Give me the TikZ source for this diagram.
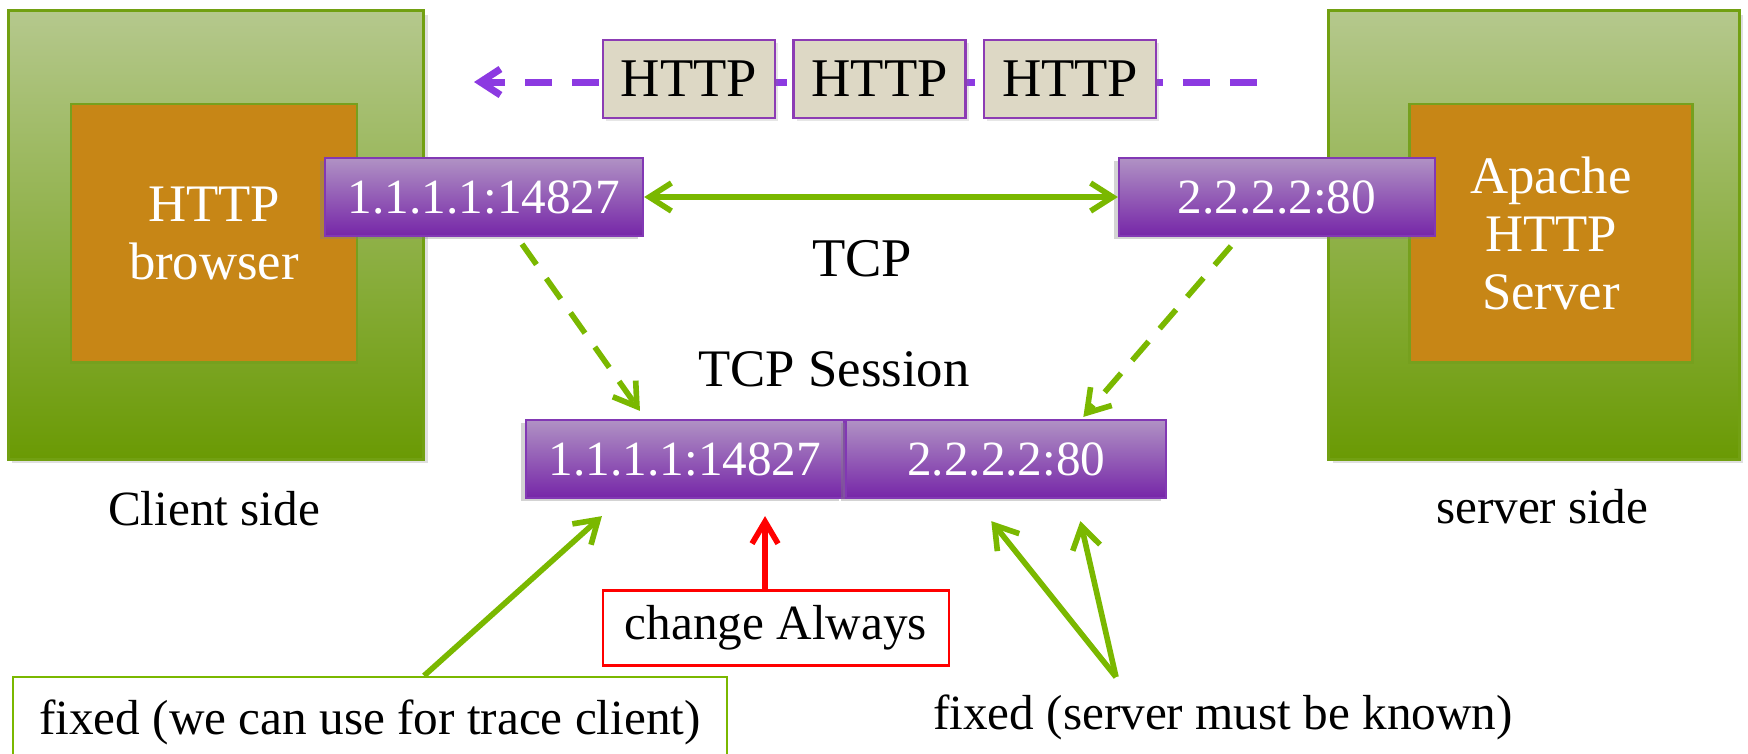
\documentclass[tikz,border=0pt]{standalone}
\usepackage{fontspec}
\setmainfont{Liberation Serif}
\usetikzlibrary{positioning,shadows,arrows.meta}

\definecolor{sideTop}{RGB}{181,200,141}
\definecolor{sideBottom}{RGB}{106,154,4}
\definecolor{sideLine}{RGB}{114,160,18}
\definecolor{appFill}{RGB}{199,134,22}
\definecolor{appLine}{RGB}{118,160,30}
\definecolor{ipTop}{RGB}{176,146,196}
\definecolor{ipBottom}{RGB}{118,38,168}
\definecolor{ipLine}{RGB}{130,56,180}
\definecolor{pktFill}{RGB}{221,216,197}
\definecolor{pktLine}{RGB}{140,60,180}
\definecolor{pktDash}{RGB}{140,58,225}
\definecolor{arrowGreen}{RGB}{122,184,0}

\tikzstyle{sideNode} = [rectangle, minimum width=4.15cm, minimum height=4.48cm, draw=sideLine, line width=0.8pt, top color=sideTop, bottom color=sideBottom, drop shadow={opacity=0.25, shadow xshift=0.04cm, shadow yshift=-0.04cm}]
\tikzstyle{appNode} = [rectangle, minimum width=2.86cm, minimum height=2.58cm, draw=appLine, line width=0.8pt, fill=appFill, text=white, align=center, font=\fontsize{15}{16.5}\selectfont]
\tikzstyle{ipNode} = [rectangle, minimum width=3.18cm, minimum height=0.78cm, draw=ipLine, line width=0.6pt, top color=ipTop, bottom color=ipBottom, text=white, font=\fontsize{14}{16}\selectfont, drop shadow={opacity=0.35, shadow xshift=-0.05cm, shadow yshift=-0.03cm}]
\tikzstyle{pktNode} = [rectangle, minimum width=1.72cm, minimum height=0.78cm, draw=pktLine, line width=0.7pt, fill=pktFill, font=\fontsize{15.5}{18}\selectfont, drop shadow={opacity=0.2, shadow xshift=0.03cm, shadow yshift=-0.03cm}]
\tikzstyle{noteNode} = [rectangle, line width=0.7pt, font=\fontsize{14}{16}\selectfont]
\tikzstyle{arrow} = [line width=1.6pt, draw=arrowGreen, ->, >={Straight Barb[length=0.22cm, width=0.28cm]}]
\tikzstyle{dashArrow} = [arrow, dash pattern=on 0.25cm off 0.17cm]
\tikzstyle{pktArrow} = [line width=2pt, draw=pktDash, ->, >={Straight Barb[length=0.2cm, width=0.26cm]}, dash pattern=on 0.27cm off 0.2cm]
\tikzstyle{redArrow} = [line width=1.6pt, draw=red, ->, >={Straight Barb[length=0.22cm, width=0.26cm]}]

\begin{document}
\begin{tikzpicture}[x=0.01cm, y=-0.01cm]
    \useasboundingbox (0,0) rectangle (1748,753);

    \node (client)[sideNode] at (216,235) {};
    \node (browser)[appNode] at (214,233) {HTTP\\browser};
    \node (cip)[ipNode] at (484,197) {1.1.1.1:14827};
    \node (server)[sideNode, minimum width=4.1cm] at (1534,235) {};
    \node (apache)[appNode, minimum width=2.83cm] at (1551,233) {Apache\\HTTP\\Server};
    \node (sip)[ipNode, minimum width=3.16cm] at (1277,197) {2.2.2.2:80};
    \node (clientlbl)[noteNode] at (214,509) {Client side};
    \node (serverlbl)[noteNode] at (1542,507) {server side};

    \coordinate (pktStart) at (1257,82);
    \coordinate (pktEnd) at (474,82);
    \draw [pktArrow] (pktStart) -- (pktEnd);
    \node (pkt1)[pktNode] at (689,79) {HTTP};
    \node (pkt2)[pktNode, right=0.16cm of pkt1] {HTTP};
    \node (pkt3)[pktNode, right=0.16cm of pkt2] {HTTP};

    \node (tcp)[noteNode, font=\fontsize{15.5}{18}\selectfont] at (862,259) {TCP};
    \node (session)[noteNode, font=\fontsize{15}{18}\selectfont] at (834,369) {TCP Session};
    \node (sesl)[ipNode] at (685,459) {1.1.1.1:14827};
    \node (sesr)[ipNode, minimum width=3.2cm, right=0pt of sesl] {2.2.2.2:80};

    \node (chg)[noteNode, draw=red, minimum width=3.46cm, minimum height=0.75cm] at (776,628) {change Always};
    \node (fixl)[noteNode, draw=arrowGreen, minimum width=7.14cm, minimum height=0.9cm] at (370,722) {fixed (we can use for trace client)};
    \node (fixr)[noteNode] at (1223,717) {fixed (server must be known)};
    \coordinate (fork) at (1116,677);

    \draw [arrow, <->] (cip) -- (sip);
    \draw [dashArrow] ([xshift=0.38cm, yshift=-0.07cm]cip.south) -- ([xshift=-0.45cm, yshift=0.08cm]sesl.north);
    \draw [dashArrow] ([xshift=-0.46cm, yshift=-0.09cm]sip.south) -- ([xshift=0.77cm, yshift=0.02cm]sesr.north);
    \draw [redArrow] ([xshift=-0.11cm]chg.north) -- ([xshift=0.8cm, yshift=-0.17cm]sesl.south);
    \draw [arrow] ([xshift=0.54cm]fixl.north) -- ([xshift=-0.83cm, yshift=-0.17cm]sesl.south);
    \draw [arrow] (fork) -- ([xshift=-0.15cm, yshift=-0.22cm]sesr.south);
    \draw [arrow] (fork) -- ([xshift=0.74cm, yshift=-0.22cm]sesr.south);

\end{tikzpicture}
\end{document}
